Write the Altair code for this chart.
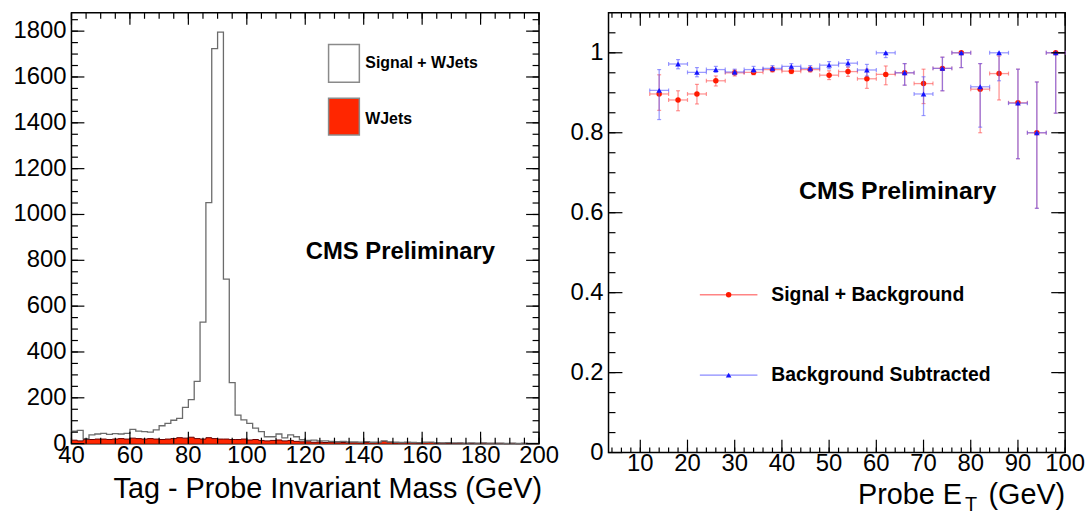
import altair as alt
import pandas as pd

# ---------------- Left panel: Tag - Probe invariant mass (2 GeV bins, 40-200 GeV)
mass_bin_low = list(range(40, 200, 2))
signal_plus_wjets = [55, 58, 22, 38, 42, 45, 40, 44, 42, 45,
                     62, 55, 52, 50, 60, 78, 88, 102, 110, 158,
                     192, 272, 530, 1052, 1724, 1796, 718, 266, 124, 104,
                     88, 68, 52, 30, 30, 42, 25, 38, 30, 17,
                     14, 15, 12, 12, 10, 9, 10, 8, 8, 7,
                     9, 6, 7, 12, 8, 6, 5, 7, 5, 4,
                     6, 7, 4, 3, 4, 3, 3, 2, 3, 2,
                     3, 2, 2, 2, 1, 2, 1, 2, 1, 1]
wjets = [15, 12, 18, 18, 20, 20, 18, 20, 22, 20,
         24, 22, 20, 22, 20, 18, 20, 22, 26, 24,
         28, 22, 20, 26, 22, 20, 20, 18, 18, 20,
         16, 18, 14, 12, 14, 16, 12, 14, 10, 8,
         8, 6, 7, 5, 6, 4, 5, 4, 4, 3,
         5, 3, 4, 10, 6, 3, 3, 4, 3, 2,
         4, 5, 2, 2, 2, 1, 2, 1, 1, 1,
         2, 1, 1, 1, 0, 1, 0, 1, 0, 0]
mass_major = [40, 60, 80, 100, 120, 140, 160, 180, 200]
mass_labels = ["40", "60", "80", "100", "120", "140", "160", "180", "200"]
mass_minor = list(range(40, 201, 5))
count_major = [0, 200, 400, 600, 800, 1000, 1200, 1400, 1600, 1800]
count_labels = ["0", "200", "400", "600", "800", "1000", "1200", "1400", "1600", "1800"]
count_minor = list(range(50, 1851, 50))

# ---------------- Right panel: efficiency vs probe ET (4 GeV bins)
et_center = [14, 18, 22, 26, 30, 34, 38, 42, 46, 50, 54,
             58, 62, 66, 70, 74, 78, 82, 86, 90, 94, 98]
et_low = [12, 16, 20, 24, 28, 32, 36, 40, 44, 48, 52,
          56, 60, 64, 68, 72, 76, 80, 84, 88, 92, 96]
et_high = [16, 20, 24, 28, 32, 36, 40, 44, 48, 52, 56,
           60, 64, 68, 72, 76, 80, 84, 88, 92, 96, 100]
sb_eff = [0.897, 0.882, 0.897, 0.930, 0.950, 0.951, 0.958, 0.954, 0.958, 0.944, 0.953,
          0.935, 0.946, 0.950, 0.923, 0.961, 1.000, 0.909, 0.948, 0.875, 0.800, 1.000]
sb_lo = [0.856, 0.855, 0.872, 0.917, 0.942, 0.945, 0.952, 0.948, 0.952, 0.933, 0.941,
         0.911, 0.920, 0.919, 0.873, 0.905, 0.963, 0.800, 0.882, 0.735, 0.611, 0.849]
sb_hi = [0.945, 0.905, 0.921, 0.942, 0.957, 0.957, 0.964, 0.960, 0.964, 0.955, 0.964,
         0.959, 0.967, 0.973, 0.959, 0.989, 1.000, 0.973, 0.992, 0.959, 0.927, 1.000]
bs_eff = [0.906, 0.972, 0.951, 0.958, 0.952, 0.958, 0.961, 0.966, 0.961, 0.969, 0.974,
          0.957, 1.000, 0.950, 0.897, 0.961, 1.000, 0.915, 1.000, 0.874, 0.800, 1.000]
bs_lo = [0.833, 0.960, 0.940, 0.951, 0.945, 0.951, 0.955, 0.959, 0.954, 0.960, 0.965,
         0.942, 0.988, 0.919, 0.843, 0.905, 0.963, 0.814, 0.930, 0.735, 0.611, 0.849]
bs_hi = [0.958, 0.983, 0.963, 0.966, 0.959, 0.966, 0.968, 0.973, 0.968, 0.978, 0.983,
         0.971, 1.000, 0.973, 0.940, 0.989, 1.000, 0.973, 1.000, 0.959, 0.927, 1.000]
et_major = [10, 20, 30, 40, 50, 60, 70, 80, 90, 100]
et_labels = ["10", "20", "30", "40", "50", "60", "70", "80", "90", "100"]
et_minor = list(range(4, 101, 2))
eff_major = [0, 0.2, 0.4, 0.6, 0.8, 1.0]
eff_labels = ["0", "0.2", "0.4", "0.6", "0.8", "1"]
eff_minor = [round(0.05 * i, 2) for i in range(1, 22)]

FONT = "Liberation Sans"
RED = "#ff1a00"
RED_ERR = "#ff5050"
BLUE = "#1414ff"
BLUE_ERR = "#5a5aff"
FILL_RED = "#ff2600"

LW, LH = 471, 434
RW, RH = 460, 443

xs_mass = alt.Scale(domain=[40, 200], nice=False, zero=False)
ys_cnt = alt.Scale(domain=[0, 1880], nice=False, zero=False)
xs_et = alt.Scale(domain=[3.27, 100], nice=False, zero=False)
ys_eff = alt.Scale(domain=[0, 1.1], nice=False, zero=False)

one = pd.DataFrame({"k": [0]})


def frame_ticks(vals, channel, scale, length, W, H):
    df = pd.DataFrame({"v": vals})
    base = alt.Chart(df).mark_rule(color="black", strokeWidth=1.2)
    if channel == "y":
        enc = alt.Y("v:Q", scale=scale, axis=None)
        return [base.encode(y=enc, x=alt.value(0), x2=alt.value(length)),
                base.encode(y=enc, x=alt.value(W - length), x2=alt.value(W))]
    enc = alt.X("v:Q", scale=scale, axis=None)
    return [base.encode(x=enc, y=alt.value(H), y2=alt.value(H - length)),
            base.encode(x=enc, y=alt.value(0), y2=alt.value(length))]


def tick_labels(vals, labels, channel, scale, H, pad, size=24):
    df = pd.DataFrame({"v": vals, "lab": labels})
    if channel == "x":
        return alt.Chart(df).mark_text(
            align="center", baseline="top", fontSize=size, font=FONT, color="black"
        ).encode(x=alt.X("v:Q", scale=scale, axis=None), y=alt.value(H + pad), text="lab:N")
    return alt.Chart(df).mark_text(
        align="right", baseline="middle", fontSize=size, font=FONT, color="black"
    ).encode(y=alt.Y("v:Q", scale=scale, axis=None), x=alt.value(-pad), text="lab:N")


def text(t, x, y, size, bold=True, align="left", baseline="middle"):
    return alt.Chart(pd.DataFrame({"t": [t]})).mark_text(
        align=align, baseline=baseline, fontSize=size, font=FONT,
        fontWeight="bold" if bold else "normal", color="black"
    ).encode(text="t:N", x=alt.value(x), y=alt.value(y))


# ---------------- left panel layers
hist_df = pd.DataFrame({
    "m": mass_bin_low + [200],
    "tot": signal_plus_wjets + [signal_plus_wjets[-1]],
    "wj": wjets + [wjets[-1]],
})

wj_area = alt.Chart(hist_df).mark_area(
    interpolate="step-after", color=FILL_RED
).encode(
    x=alt.X("m:Q", scale=xs_mass, axis=None),
    y=alt.Y("wj:Q", scale=ys_cnt, axis=None, stack=None),
)
wj_edge = alt.Chart(hist_df).mark_line(
    interpolate="step-after", color="#6a0000", strokeWidth=1
).encode(
    x=alt.X("m:Q", scale=xs_mass, axis=None),
    y=alt.Y("wj:Q", scale=ys_cnt, axis=None),
)
tot_line = alt.Chart(hist_df).mark_line(
    interpolate="step-after", color="#6b6b6b", strokeWidth=1.3
).encode(
    x=alt.X("m:Q", scale=xs_mass, axis=None),
    y=alt.Y("tot:Q", scale=ys_cnt, axis=None),
)

left_layers = [wj_area, wj_edge, tot_line]
left_layers += frame_ticks(count_major, "y", ys_cnt, 13, LW, LH)
left_layers += frame_ticks(count_minor, "y", ys_cnt, 6.5, LW, LH)
left_layers += frame_ticks(mass_major, "x", xs_mass, 12, LW, LH)
left_layers += frame_ticks(mass_minor, "x", xs_mass, 6, LW, LH)
left_layers += [
    tick_labels(mass_major, mass_labels, "x", xs_mass, LH, 0),
    tick_labels(count_major, count_labels, "y", ys_cnt, LH, 5),
]

leg_box1 = alt.Chart(one).mark_rect(fill="white", stroke="#8a8a8a", strokeWidth=1.5).encode(
    x=alt.value(259), x2=alt.value(290), y=alt.value(32), y2=alt.value(70))
leg_box2 = alt.Chart(one).mark_rect(fill=FILL_RED, stroke="#8a8a8a", strokeWidth=1.5).encode(
    x=alt.value(259), x2=alt.value(290), y=alt.value(86), y2=alt.value(123))
left_layers += [
    leg_box1, leg_box2,
    text("Signal + WJets", 296, 51, 16),
    text("WJets", 296, 107, 16),
    text("CMS Preliminary", 236, 241, 24),
    text("Tag - Probe Invariant Mass (GeV)", 474, 489, 29, bold=False,
         align="right", baseline="alphabetic"),
]

left = alt.layer(*left_layers).properties(width=LW, height=LH)


# ---------------- right panel layers
def eff_layers(eff, lo, hi, color, err_color, shape, size):
    df = pd.DataFrame({"x": et_center, "xlo": et_low, "xhi": et_high,
                       "y": eff, "ylo": lo, "yhi": hi})
    base = alt.Chart(df)
    X = lambda f: alt.X(f + ":Q", scale=xs_et, axis=None)
    Y = lambda f: alt.Y(f + ":Q", scale=ys_eff, axis=None)
    op = 0.6
    return [
        base.mark_rule(color=err_color, opacity=op, strokeWidth=1.3).encode(
            x=X("xlo"), x2="xhi:Q", y=Y("y")),
        base.mark_rule(color=err_color, opacity=op, strokeWidth=1.3).encode(
            x=X("x"), y=Y("ylo"), y2="yhi:Q"),
        base.mark_tick(color=err_color, opacity=op, orient="horizontal", size=4, thickness=1.2).encode(
            x=X("x"), y=Y("ylo")),
        base.mark_tick(color=err_color, opacity=op, orient="horizontal", size=4, thickness=1.2).encode(
            x=X("x"), y=Y("yhi")),
        base.mark_tick(color=err_color, opacity=op, orient="vertical", size=4, thickness=1.2).encode(
            x=X("xlo"), y=Y("y")),
        base.mark_tick(color=err_color, opacity=op, orient="vertical", size=4, thickness=1.2).encode(
            x=X("xhi"), y=Y("y")),
        base.mark_point(shape=shape, filled=True, color=color, opacity=1, size=size).encode(
            x=X("x"), y=Y("y")),
    ]


right_layers = []
right_layers += eff_layers(sb_eff, sb_lo, sb_hi, RED, RED_ERR, "circle", 30)
right_layers += eff_layers(bs_eff, bs_lo, bs_hi, BLUE, BLUE_ERR, "triangle-up", 32)
right_layers += frame_ticks(eff_major, "y", ys_eff, 14, RW, RH)
right_layers += frame_ticks(eff_minor, "y", ys_eff, 7, RW, RH)
right_layers += frame_ticks(et_major, "x", xs_et, 13, RW, RH)
right_layers += frame_ticks(et_minor, "x", xs_et, 5, RW, RH)
right_layers += [
    tick_labels(et_major, et_labels, "x", xs_et, RH, 0),
    tick_labels(eff_major, eff_labels, "y", ys_eff, RH, 5),
]

right_layers += [
    alt.Chart(one).mark_rule(color=RED_ERR, opacity=0.7, strokeWidth=1.3).encode(
        x=alt.value(92), x2=alt.value(150), y=alt.value(284)),
    alt.Chart(one).mark_point(shape="circle", filled=True, color=RED, opacity=1, size=30).encode(
        x=alt.value(121), y=alt.value(284)),
    alt.Chart(one).mark_rule(color=BLUE_ERR, opacity=0.7, strokeWidth=1.3).encode(
        x=alt.value(92), x2=alt.value(150), y=alt.value(365)),
    alt.Chart(one).mark_point(shape="triangle-up", filled=True, color=BLUE, opacity=1, size=32).encode(
        x=alt.value(121), y=alt.value(365)),
    text("Signal + Background", 164, 284, 19.5),
    text("Background Subtracted", 164, 365, 19.5),
    text("CMS Preliminary", 192, 180, 25),
    text("Probe E", 356, 495, 29, bold=False, align="right", baseline="alphabetic"),
    text("T", 359, 502, 20, bold=False, align="left", baseline="alphabetic"),
    text("(GeV)", 460, 495, 29, bold=False, align="right", baseline="alphabetic"),
]

right = alt.layer(*right_layers).properties(width=RW, height=RH)

chart = alt.hconcat(left, right, spacing=70, bounds="flush").properties(
    padding={"left": 12, "top": 9, "right": 0, "bottom": 0}
).configure(font=FONT).configure_view(
    stroke="black", strokeWidth=1.5
)

chart.save("out.html", embed_options={"renderer": "svg", "actions": False})
